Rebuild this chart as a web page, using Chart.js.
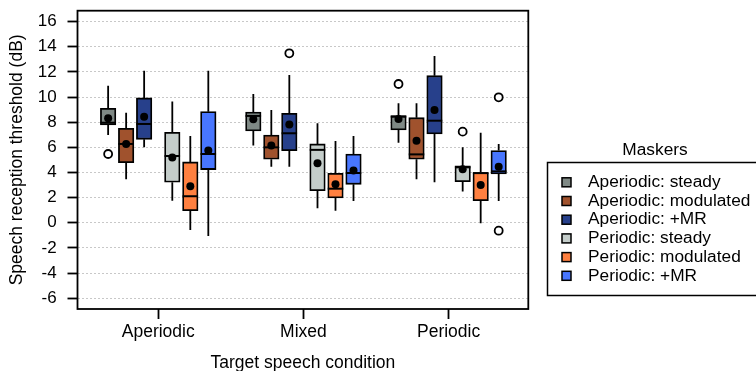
<!DOCTYPE html>
<html>
<head>
<meta charset="utf-8">
<script src="https://cdn.jsdelivr.net/npm/chart.js@4.4.1/dist/chart.umd.min.js"></script>
<style>
  html, body { margin: 0; padding: 0; background: #fff; }
</style>
</head>
<body>
<canvas id="myChart" width="756" height="371"></canvas>
<script>
var categories = ['Aperiodic', 'Mixed', 'Periodic'];
var maskers = ['Aperiodic: steady', 'Aperiodic: modulated', 'Aperiodic: +MR',
               'Periodic: steady', 'Periodic: modulated', 'Periodic: +MR'];

// one row per masker, one value per target speech condition (dB)
var whiskerLow  = [[6.98, 6.14, 6.37], [3.46, 4.46, 3.46], [6.00, 4.46, 3.22],
                   [1.76, 1.15, 2.48], [-0.57, 0.96, -0.04], [-1.05, 1.73, 1.73]];
var q1          = [[7.78, 7.30, 7.38], [4.78, 5.05, 5.05], [6.64, 5.74, 7.06],
                   [3.22, 2.55, 3.27], [0.96, 1.97, 1.76], [4.23, 3.06, 3.88]];
var median      = [[7.96, 8.50, 8.44], [6.27, 6.00, 5.44], [7.86, 7.12, 8.12],
                   [5.31, 5.80, 4.41], [2.11, 2.71, 3.95], [5.47, 3.96, 4.09]];
var q3          = [[9.10, 8.81, 8.52], [7.51, 6.98, 8.36], [9.93, 8.71, 11.70],
                   [7.20, 6.27, 4.52], [4.84, 3.93, 3.99], [8.84, 5.47, 5.74]];
var whiskerHigh = [[10.90, 10.25, 9.50], [8.76, 8.97, 9.50], [12.10, 11.76, 13.27],
                   [9.64, 7.91, 6.00], [6.90, 6.51, 7.17], [12.10, 6.90, 6.27]];
var means       = [[8.31, 8.23, 8.26], [6.27, 6.14, 6.53], [8.44, 7.81, 8.97],
                   [5.20, 4.73, 4.25], [2.90, 3.06, 3.01], [5.74, 4.15, 4.46]];
// [masker, condition, value]
var outliers = [[0, 0, 5.47], [0, 2, 11.04], [2, 1, 13.48], [3, 2, 7.25], [5, 2, 9.98], [5, 2, -0.63]];

var yTickValues = [-6, -4, -2, 0, 2, 4, 6, 8, 10, 12, 14, 16];

var maskerColors = ['#7f8985', '#a0522d', '#27408b', '#c4cdca', '#ff8040', '#4876ff'];
const BOX_OFFSETS = [-0.345, -0.221, -0.097, 0.097, 0.221, 0.345];
const FONT = "'Liberation Sans', Arial, sans-serif";

Chart.defaults.font.family = FONT;
Chart.defaults.font.size = 17.5;
Chart.defaults.color = '#000';

function boxX(m, j) {
  return j + 1 + BOX_OFFSETS[m];
}

var datasets = maskers.map((name, m) => ({
  type: 'bar',
  label: name,
  maskerIndex: m,
  order: 1,
  data: categories.map((c, j) => ({ x: boxX(m, j), y: [q1[m][j], q3[m][j]] })),
  backgroundColor: maskerColors[m],
  borderColor: '#000',
  borderWidth: 1.8,
  borderSkipped: false,
  grouped: false,
  barThickness: 15.5,
  barPercentage: 1,
  categoryPercentage: 1
}));

datasets.push({
  type: 'scatter',
  label: 'mean',
  order: 0,
  data: means.flatMap((row, m) => row.map((v, j) => ({ x: boxX(m, j), y: v }))),
  pointRadius: 4,
  backgroundColor: '#000',
  borderWidth: 0
});

datasets.push({
  type: 'scatter',
  label: 'outliers',
  order: 0,
  data: outliers.map(o => ({ x: boxX(o[0], o[1]), y: o[2] })),
  pointRadius: 4,
  backgroundColor: '#fff',
  borderColor: '#000',
  borderWidth: 1.8
});

// whiskers and median line, drawn right after each box dataset
const boxParts = {
  id: 'boxParts',
  afterDatasetDraw(chart, args) {
    const ds = chart.data.datasets[args.index];
    if (ds.maskerIndex === undefined) return;
    const m = ds.maskerIndex;
    const y = chart.scales.y;
    const c = chart.ctx;
    c.save();
    c.strokeStyle = '#000';
    args.meta.data.forEach((bar, j) => {
      const half = bar.width / 2;
      c.lineWidth = 1.8;
      c.beginPath();
      c.moveTo(bar.x, y.getPixelForValue(q3[m][j]));
      c.lineTo(bar.x, y.getPixelForValue(whiskerHigh[m][j]));
      c.moveTo(bar.x, y.getPixelForValue(q1[m][j]));
      c.lineTo(bar.x, y.getPixelForValue(whiskerLow[m][j]));
      c.stroke();
      const ym = y.getPixelForValue(median[m][j]);
      c.lineWidth = 2;
      c.beginPath();
      c.moveTo(bar.x - half, ym);
      c.lineTo(bar.x + half, ym);
      c.stroke();
    });
    c.restore();
  }
};

// box round the plot, plus the boxed legend on the right
const frameAndLegend = {
  id: 'frameAndLegend',
  afterDraw(chart) {
    const a = chart.chartArea;
    const c = chart.ctx;
    c.save();
    c.strokeStyle = '#000';
    c.lineWidth = 1.8;
    c.strokeRect(a.left, a.top, a.right - a.left, a.bottom - a.top);

    c.font = '17.3px ' + FONT;
    c.fillStyle = '#000';
    c.textBaseline = 'middle';
    c.textAlign = 'center';
    c.fillText('Maskers', 655, 150);
    c.lineWidth = 1.5;
    c.strokeRect(547.5, 162.5, 230, 133);
    c.textAlign = 'left';
    maskers.forEach((name, i) => {
      const yy = 182.3 + i * 18.7;
      c.fillStyle = maskerColors[i];
      c.fillRect(562, yy - 4.5, 9, 9);
      c.strokeRect(562, yy - 4.5, 9, 9);
      c.fillStyle = '#000';
      c.fillText(name, 588, yy);
    });
    c.restore();
  }
};

var ctx = document.getElementById('myChart');
var boxChart = new Chart(ctx, {
  type: 'bar',
  data: { datasets: datasets },
  plugins: [boxParts, frameAndLegend],
  options: {
    responsive: false,
    animation: false,
    events: [],
    layout: { padding: { left: 7, right: 227.7, top: 10.7, bottom: 0 } },
    plugins: {
      legend: { display: false },
      tooltip: { enabled: false }
    },
    scales: {
      x: {
        type: 'linear',
        offset: false,
        min: 0.444,
        max: 3.549,
        afterBuildTicks: s => { s.ticks = categories.map((c, i) => ({ value: i + 1 })); },
        afterFit: s => { s.height = 62; s.paddingLeft = 0; s.paddingRight = 0; },
        grid: { offset: false, drawOnChartArea: false, tickColor: '#000', tickWidth: 1.8, tickLength: 10 },
        border: { display: false },
        ticks: { padding: 2.2, maxRotation: 0, autoSkip: false, callback: v => categories[v - 1] },
        title: { display: true, text: 'Target speech condition', padding: { top: 0, bottom: -2.3 } }
      },
      y: {
        type: 'linear',
        min: -6.86,
        max: 16.87,
        afterBuildTicks: s => { s.ticks = yTickValues.map(v => ({ value: v })); },
        afterFit: s => { s.width = 70.5; s.paddingTop = 0; s.paddingBottom = 0; },
        grid: { color: '#c8c8c8', lineWidth: 1, tickColor: '#000', tickWidth: 1.8, tickLength: 10, tickBorderDash: [] },
        border: { display: false, dash: [2, 2] },
        ticks: { padding: 10.8, font: { size: 17 } },
        title: { display: true, text: 'Speech reception threshold (dB)', padding: 0 }
      }
    }
  }
});
</script>
</body>
</html>
